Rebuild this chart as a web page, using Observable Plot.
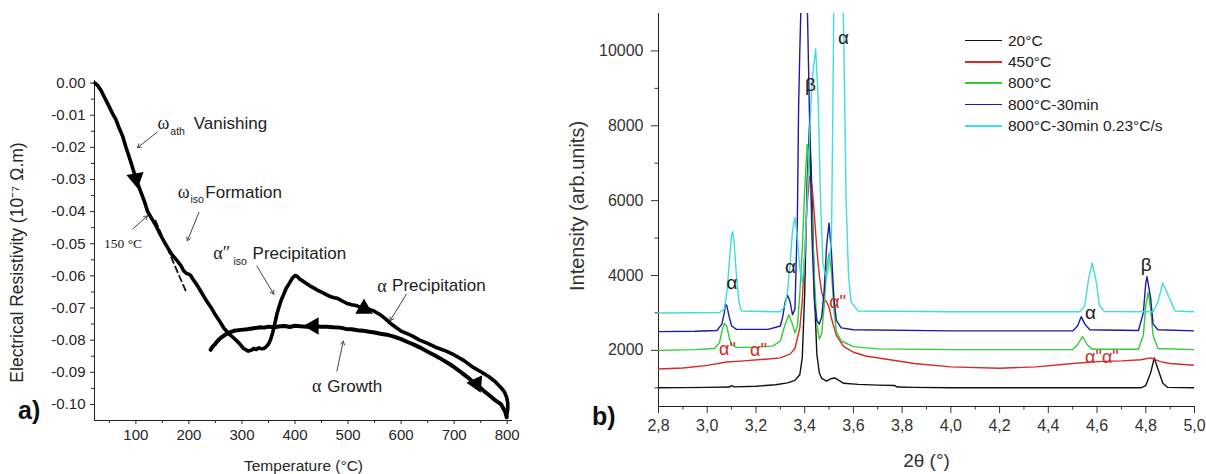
<!DOCTYPE html>
<html><head><meta charset="utf-8">
<script src="https://cdn.jsdelivr.net/npm/d3@7"></script>
<script src="https://cdn.jsdelivr.net/npm/@observablehq/plot@0.6"></script>
<style>
body{margin:0;background:#fff}
#wrap{position:relative;width:1206px;height:474px;overflow:hidden;background:#fff}
#wrap > svg{position:absolute;top:0}
.panel{position:absolute;font:bold 25px "Liberation Sans",Arial,sans-serif;color:#111}
#legend{position:absolute;left:965px;top:30px;font:15.5px "Liberation Sans",Arial,sans-serif;color:#222}
#legend .row{display:flex;align-items:center;height:21.3px;white-space:nowrap}
#legend .sw{width:37px;height:1.6px;margin-right:6px}
</style></head>
<body><div id="wrap"></div>
<script>
// ---------- Panel a) : electrical resistivity vs temperature ----------
const tempDomain = [22, 810];
const resDomain = [-0.105, 0.0008];
const tempTicks = [100, 200, 300, 400, 500, 600, 700, 800];
const tempMinor = [50, 150, 250, 350, 450, 550, 650, 750];
const resTicks = [0, -0.01, -0.02, -0.03, -0.04, -0.05, -0.06, -0.07, -0.08, -0.09, -0.10];
const resMinor = [-0.005, -0.015, -0.025, -0.035, -0.045, -0.055, -0.065, -0.075, -0.085, -0.095];
const xLabelA = "Temperature (°C)";
const yLabelA = "Electrical Resistivity (10⁻⁷ Ω.m)";

const heatT = [23,28,34,40,48,56,62,68,75,81,90,100,110,116,122,130,137,145,153,160,168,176,185,190,195,200,203,208,215,222,234,242,250,258,266,276,285,295,303,312,318,322,327,332,337,341,346,350,354,358,362,366,370,374,378,383,390,395,400,404,409,414,420,428,436,444,452,460,466,474,480,490,498,507,515,522,530,538,548,560,570,580,590,600,610,620,635,650,665,685,700,718,735,752,765,778,788,795,799,801,801,799];
const heatR = [0,-0.0008,-0.0022,-0.0042,-0.0068,-0.0095,-0.0112,-0.0138,-0.0165,-0.0198,-0.0243,-0.0297,-0.0342,-0.0368,-0.0399,-0.0422,-0.0441,-0.0468,-0.0493,-0.0512,-0.0534,-0.0549,-0.0568,-0.0584,-0.0592,-0.0595,-0.0598,-0.0611,-0.0628,-0.0647,-0.0680,-0.0699,-0.0722,-0.0741,-0.0763,-0.0781,-0.0794,-0.0810,-0.0826,-0.0834,-0.0831,-0.0826,-0.0829,-0.0824,-0.0827,-0.0826,-0.0820,-0.0812,-0.0798,-0.0776,-0.0748,-0.0718,-0.0696,-0.0675,-0.0660,-0.0640,-0.0621,-0.0607,-0.0599,-0.0601,-0.0610,-0.0615,-0.0622,-0.0631,-0.0638,-0.0646,-0.0652,-0.0659,-0.0664,-0.0668,-0.0670,-0.0679,-0.0686,-0.0690,-0.0692,-0.0697,-0.0700,-0.0703,-0.0709,-0.0720,-0.0733,-0.0748,-0.0760,-0.0772,-0.0779,-0.0786,-0.0800,-0.0810,-0.0822,-0.0834,-0.0846,-0.0863,-0.0884,-0.0900,-0.0913,-0.0930,-0.0947,-0.0962,-0.0978,-0.0995,-0.1015,-0.1035];
const coolT = [799,796,788,780,773,765,758,750,742,734,725,717,710,700,692,683,673,662,650,637,623,611,600,588,573,561,550,540,529,518,507,496,485,472,460,448,435,422,410,400,390,381,372,361,350,342,335,322,310,298,285,277,270,264,260,255,252,249,246,243,241];
const coolR = [-0.1040,-0.1022,-0.0999,-0.0990,-0.0981,-0.0970,-0.0961,-0.0949,-0.0938,-0.0928,-0.0915,-0.0905,-0.0896,-0.0884,-0.0875,-0.0866,-0.0856,-0.0846,-0.0836,-0.0824,-0.0813,-0.0805,-0.0797,-0.0790,-0.0783,-0.0780,-0.0776,-0.0774,-0.0771,-0.0769,-0.0766,-0.0765,-0.0761,-0.0760,-0.0758,-0.0758,-0.0756,-0.0758,-0.0757,-0.0755,-0.0759,-0.0756,-0.0757,-0.0760,-0.0758,-0.0761,-0.0760,-0.0763,-0.0766,-0.0768,-0.0771,-0.0776,-0.0781,-0.0788,-0.0793,-0.0801,-0.0806,-0.0813,-0.0818,-0.0824,-0.0830];
const dashT = [137, 194];
const dashR = [-0.0428, -0.0647];

// direction markers on curves
const markT = [100, 530, 435, 742];
const markR = [-0.0297, -0.0702, -0.0756, -0.0935];
const markRot = [170, 0, -90, 155];

// annotations (text)
const annMainText = ["Vanishing", "Formation", "Precipitation", "Precipitation", "Growth"];
const annMainT = [209, 231, 320, 583, 461];
const annMainR = [-0.0126, -0.0340, -0.0531, -0.0631, -0.0943];
const annGreekText = ["ω", "ω", "α″", "α", "α"];
const annGreekT = [141, 179, 246, 555, 432];
const annGreekR = [-0.0126, -0.0340, -0.0531, -0.0631, -0.0943];
const annSubText = ["ath", "iso", "iso"];
const annSubT = [165, 203, 284];
const annSubR = [-0.0152, -0.0364, -0.0556];
const tempNote = "150 °C";
const tempNoteT = [40];
const tempNoteR = [-0.0500];
// annotation arrows
const arrX1 = [140, 219, 94, 328, 610, 479];
const arrY1 = [-0.0153, -0.0402, -0.0454, -0.0569, -0.0657, -0.0896];
const arrX2 = [103, 197, 122, 360, 579, 491];
const arrY2 = [-0.0201, -0.0491, -0.0413, -0.0657, -0.0740, -0.0803];

const fmtRes = d => d.toFixed(2);
const idx = a => a.map((_, i) => i);

const left = Plot.plot({
  width: 560, height: 474,
  marginTop: 80, marginBottom: 54, marginLeft: 94, marginRight: 48,
  x: {domain: tempDomain},
  y: {domain: resDomain},
  style: {fontFamily: "'Liberation Sans', Arial, sans-serif", color: "#262626", background: "transparent"},
  marks: [
    Plot.axisX({ticks: tempTicks, tickFormat: d => String(d), tickSize: 4, tickPadding: 5, fontSize: 15, label: null}),
    Plot.axisX({ticks: tempMinor, tickSize: 3, text: null, label: null}),
    Plot.axisY({ticks: resTicks, tickFormat: fmtRes, tickSize: 4, tickPadding: 5, fontSize: 15, label: null}),
    Plot.axisY({ticks: resMinor, tickSize: 3, text: null, label: null}),
    Plot.text([xLabelA], {frameAnchor: "bottom", dy: 46, lineAnchor: "middle", textAnchor: "middle", fontSize: 15.5, fill: "#262626"}),
    Plot.text([yLabelA], {frameAnchor: "left", rotate: -90, dx: -77, dy: 12, lineAnchor: "middle", textAnchor: "middle", fontSize: 17.5, fill: "#262626"}),
    Plot.ruleX([tempDomain[0]], {stroke: "#222"}),
    Plot.ruleY([resDomain[0]], {stroke: "#222"}),
    Plot.line(idx(dashT), {x: i => dashT[i], y: i => dashR[i], stroke: "#111", strokeWidth: 1.8, strokeDasharray: "6,4"}),
    Plot.line(idx(coolT), {x: i => coolT[i], y: i => coolR[i], stroke: "#000", strokeWidth: 4, strokeLinejoin: "round"}),
    Plot.line(idx(heatT), {x: i => heatT[i], y: i => heatR[i], stroke: "#000", strokeWidth: 3.6, strokeLinejoin: "round"}),
    Plot.dot(idx(markT), {x: i => markT[i], y: i => markR[i], rotate: i => markRot[i], symbol: "triangle", r: 5.5, fill: "#000", stroke: "#000"}),
    Plot.arrow(idx(arrX1), {x1: i => arrX1[i], y1: i => arrY1[i], x2: i => arrX2[i], y2: i => arrY2[i], stroke: "#444", strokeWidth: 1, headLength: 6}),
    Plot.text(idx(annMainText), {x: i => annMainT[i], y: i => annMainR[i], text: i => annMainText[i], textAnchor: "start", fontSize: 17, fill: "#222"}),
    Plot.text(idx(annGreekText), {x: i => annGreekT[i], y: i => annGreekR[i], text: i => annGreekText[i], textAnchor: "start", fontSize: 18, fill: "#222", fontFamily: "'Liberation Serif', 'DejaVu Serif', serif"}),
    Plot.text(idx(annSubText), {x: i => annSubT[i], y: i => annSubR[i], text: i => annSubText[i], textAnchor: "start", fontSize: 10.5, fill: "#222"}),
    Plot.text(tempNoteT, {x: tempNoteT, y: tempNoteR, text: [tempNote], textAnchor: "start", fontSize: 13.5, fill: "#222", fontFamily: "'Liberation Serif', serif"})
  ]
});

// ---------- Panel b) : XRD patterns ----------
const thetaDomain = [2.8, 5.0];
const intDomain = [500, 11000];
const thetaTicks = [2.8, 3.0, 3.2, 3.4, 3.6, 3.8, 4.0, 4.2, 4.4, 4.6, 4.8, 5.0];
const thetaMinor = [2.9, 3.1, 3.3, 3.5, 3.7, 3.9, 4.1, 4.3, 4.5, 4.7, 4.9];
const intTicks = [2000, 4000, 6000, 8000, 10000];
const intMinor = [1000, 3000, 5000, 7000, 9000];
const xLabelB = "2θ (°)";
const yLabelB = "Intensity (arb.units)";

const seriesNames = ["20°C", "450°C", "800°C", "800°C-30min", "800°C-30min 0.23°C/s"];
const seriesColors = ["#111111", "#d42a2a", "#33cc33", "#1c1ca8", "#3fdede"];

const x20 = [2.80,2.90,3.00,3.09,3.10,3.11,3.20,3.28,3.33,3.36,3.38,3.39,3.40,3.41,3.42,3.43,3.44,3.45,3.46,3.47,3.49,3.51,3.525,3.54,3.56,3.62,3.70,3.77,3.78,3.85,4.00,4.40,4.78,4.80,4.82,4.835,4.85,4.87,4.89,5.00];
const y20 = [1000,1005,1010,1020,1060,1025,1040,1080,1130,1200,1350,1800,3500,6500,8050,6200,3500,1900,1400,1250,1180,1250,1260,1200,1120,1090,1070,1060,1020,1010,1000,1000,1000,1060,1400,1800,1500,1120,1010,1000];
const x450 = [2.80,2.90,3.00,3.08,3.15,3.25,3.30,3.34,3.36,3.38,3.39,3.40,3.41,3.42,3.43,3.44,3.45,3.46,3.47,3.48,3.49,3.50,3.51,3.53,3.56,3.60,3.65,3.75,3.85,4.00,4.20,4.35,4.50,4.60,4.70,4.78,4.82,4.86,4.90,5.00];
const y450 = [1500,1530,1600,1690,1720,1770,1800,1900,2050,2600,3300,4600,5900,6650,6400,5600,4700,4000,3550,3350,3300,3150,2850,2400,2100,1950,1850,1750,1650,1560,1520,1560,1650,1700,1720,1750,1800,1700,1650,1600];
const x800 = [2.80,2.95,3.03,3.05,3.06,3.07,3.08,3.09,3.10,3.12,3.20,3.27,3.30,3.32,3.335,3.35,3.36,3.37,3.38,3.39,3.40,3.41,3.42,3.43,3.44,3.45,3.46,3.47,3.48,3.49,3.50,3.51,3.52,3.53,3.55,3.60,3.70,4.00,4.50,4.52,4.54,4.56,4.58,4.77,4.79,4.80,4.81,4.82,4.83,4.85,5.00];
const y800 = [2000,2020,2050,2200,2500,2720,2650,2350,2150,2080,2080,2120,2250,2700,2950,2700,2460,2650,3500,4700,6300,7500,7100,5600,3900,2700,2300,2450,3200,4200,4600,4100,3100,2500,2250,2100,2040,2020,2020,2150,2370,2150,2030,2030,2400,3200,3550,3100,2400,2050,2020];
const x800m = [2.80,2.95,3.04,3.06,3.07,3.075,3.08,3.09,3.10,3.12,3.25,3.30,3.31,3.32,3.33,3.34,3.35,3.36,3.37,3.375,3.38,3.39,3.40,3.41,3.42,3.43,3.44,3.45,3.46,3.47,3.48,3.49,3.50,3.51,3.52,3.53,3.55,3.60,4.00,4.50,4.52,4.535,4.55,4.57,4.77,4.79,4.80,4.805,4.82,4.83,4.85,5.00];
const y800m = [2500,2510,2530,2700,3000,3230,3200,2900,2650,2560,2560,2650,2900,3300,3470,3300,2950,3100,5500,8500,10000,12500,15000,11500,8200,5000,3300,2800,2700,2900,3600,4800,5400,4600,3400,2800,2600,2550,2520,2520,2650,2900,2700,2550,2530,3000,3800,3970,3400,2700,2550,2520];
const x800s = [2.80,3.05,3.07,3.08,3.09,3.10,3.105,3.11,3.12,3.13,3.14,3.30,3.32,3.33,3.34,3.35,3.36,3.37,3.38,3.39,3.40,3.41,3.42,3.43,3.445,3.455,3.465,3.475,3.49,3.50,3.51,3.515,3.52,3.53,3.54,3.55,3.56,3.57,3.58,3.59,3.62,4.00,4.53,4.55,4.565,4.58,4.595,4.61,4.63,4.83,4.85,4.87,4.89,4.92,5.00];
const y800s = [3000,3010,3100,3500,4300,5100,5170,4900,4000,3300,3050,3030,3200,3600,4300,5200,5550,5000,4200,3800,4500,6000,7700,9200,10050,8800,6000,4300,3950,4300,5000,8000,11500,15000,16000,14000,10500,6000,4000,3300,3050,3030,3030,3200,3900,4330,3900,3200,3040,3030,3300,3800,3500,3050,3030];
const seriesX = [x20, x450, x800, x800m, x800s];
const seriesY = [y20, y450, y800, y800m, y800s];

// peak labels
const peakText = ["α", "β", "α", "α", "α", "β"];
const peakX = [3.559, 3.424, 3.342, 3.102, 4.573, 4.802];
const peakY = [10350, 9090, 4225, 3800, 2995, 4280];
const redText = ["α\"", "α\"", "α\"", "α\"α\""];
const redX = [3.083, 3.210, 3.535, 4.62];
const redY = [2030, 2005, 3290, 1826];

const fmtTheta = d => d.toFixed(1).replace(".", ",");

const right = Plot.plot({
  width: 646, height: 474,
  marginTop: 13, marginBottom: 68, marginLeft: 98, marginRight: 12,
  x: {domain: thetaDomain},
  y: {domain: intDomain},
  style: {fontFamily: "'Liberation Sans', Arial, sans-serif", color: "#333", background: "transparent"},
  marks: [
    Plot.axisX({ticks: thetaTicks, tickFormat: fmtTheta, tickSize: 7, tickPadding: 6, fontSize: 16, label: null}),
    Plot.axisX({ticks: thetaMinor, tickSize: 3.5, text: null, label: null}),
    Plot.axisY({ticks: intTicks, tickFormat: d => String(d), tickSize: 7, tickPadding: 8, fontSize: 16, label: null}),
    Plot.axisY({ticks: intMinor, tickSize: 3.5, text: null, label: null}),
    Plot.text([xLabelB], {frameAnchor: "bottom", dy: 54, lineAnchor: "middle", textAnchor: "middle", fontSize: 19, fill: "#333"}),
    Plot.text([yLabelB], {frameAnchor: "left", rotate: -90, dx: -81, dy: -4, lineAnchor: "middle", textAnchor: "middle", fontSize: 20, fill: "#333"}),
    Plot.ruleX([thetaDomain[0]], {stroke: "#222"}),
    Plot.ruleY([intDomain[0]], {stroke: "#222"}),
    ...seriesX.map((xs, s) => Plot.line(idx(xs), {x: i => xs[i], y: i => seriesY[s][i], stroke: seriesColors[s], strokeWidth: 1.4, clip: true})),
    Plot.text(idx(peakText), {x: i => peakX[i], y: i => peakY[i], text: i => peakText[i], fontSize: 19, fill: "#222"}),
    Plot.text(idx(redText), {x: i => redX[i], y: i => redY[i], text: i => redText[i], fontSize: 18, fill: "#d42a2a"})
  ]
});

const wrap = document.getElementById("wrap");
left.style.left = "0px";
right.style.left = "560px";
wrap.appendChild(left);
wrap.appendChild(right);

const a = document.createElement("div"); a.className = "panel"; a.textContent = "a)";
a.style.left = "18px"; a.style.top = "396px"; wrap.appendChild(a);
const b = document.createElement("div"); b.className = "panel"; b.textContent = "b)";
b.style.left = "592px"; b.style.top = "402px"; wrap.appendChild(b);

const legend = document.createElement("div"); legend.id = "legend";
seriesNames.forEach((n, s) => {
  const row = document.createElement("div"); row.className = "row";
  const sw = document.createElement("div"); sw.className = "sw"; sw.style.background = seriesColors[s];
  const t = document.createElement("span"); t.textContent = n;
  row.appendChild(sw); row.appendChild(t); legend.appendChild(row);
});
wrap.appendChild(legend);
</script></body></html>
